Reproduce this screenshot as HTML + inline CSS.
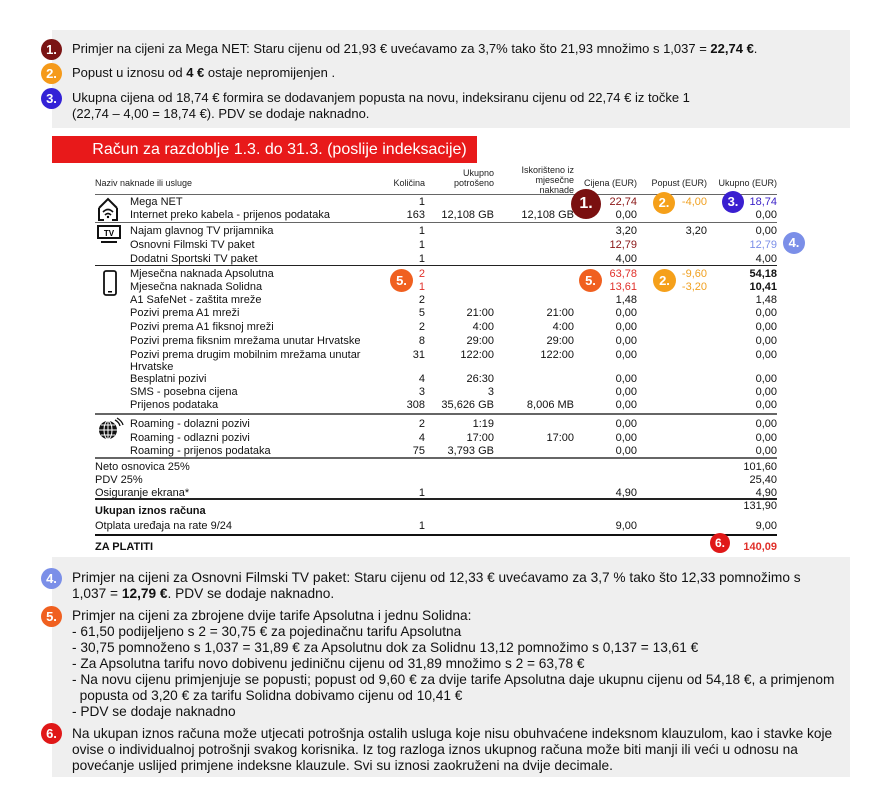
<!DOCTYPE html>
<html><head><meta charset="utf-8"><style>
body{margin:0;width:890px;height:796px;background:#fff;position:relative;overflow:hidden;font-family:"Liberation Sans",sans-serif;color:#111}
.gray{position:absolute;background:#efefef}
.t13{position:absolute;font-size:13px;line-height:16px;left:72px;white-space:nowrap}
.bt{font-size:13.7px}
.b{position:absolute;border-radius:50%;color:#fff;font-weight:bold;text-align:center;font-size:13px}
.row{position:absolute;left:0;width:890px;height:13px;font-size:11px;line-height:13px}
.row span{position:absolute;white-space:nowrap}
.n{left:130px}.m{left:95px}
.q{right:465px}.u{right:396px}.i{right:316px}.c{right:253px}.p{right:183px}.t{right:113px}
.ln{position:absolute;left:95px;width:682px;height:1px;background:#666}
.red{color:#e0302a}.dr{color:#8a1616}.or{color:#f0a020}.bl{color:#3b22c8}.lb{color:#7b8fe8}
.hd{position:absolute;font-size:9px;line-height:10px;text-align:right;color:#222}
</style></head><body>
<div class="gray" style="left:52px;top:30px;width:798px;height:98px"></div>
<div class="gray" style="left:52px;top:557px;width:798px;height:220px"></div>

<div class="b" style="left:41px;top:39px;width:21px;height:21px;line-height:21px;background:#7a1414">1.</div>
<div class="b" style="left:41px;top:63px;width:21px;height:21px;line-height:21px;background:#f59a1a">2.</div>
<div class="b" style="left:41px;top:88px;width:21px;height:21px;line-height:21px;background:#3322d6">3.</div>
<div class="t13" style="top:41px">Primjer na cijeni za Mega NET: Staru cijenu od 21,93 € uvećavamo za 3,7% tako što 21,93 množimo s 1,037 = <b>22,74 €</b>.</div>
<div class="t13" style="top:65px">Popust u iznosu od <b>4 €</b> ostaje nepromijenjen .</div>
<div class="t13" style="top:90px">Ukupna cijena od 18,74 € formira se dodavanjem popusta na novu, indeksiranu cijenu od 22,74 €  iz točke 1<br>(22,74 – 4,00 = 18,74 €). PDV se dodaje naknadno.</div>

<div style="position:absolute;left:52px;top:136px;width:425px;height:27px;background:#e8191a;color:#fff;font-size:16px;line-height:27px;text-align:center;box-sizing:border-box;padding-left:30px">Račun za razdoblje 1.3. do 31.3. (poslije indeksacije)</div>

<div class="hd" style="left:95px;top:178px;text-align:left">Naziv naknade ili usluge</div>
<div class="hd" style="right:465px;top:178px">Količina</div>
<div class="hd" style="right:396px;top:168px">Ukupno<br>potrošeno</div>
<div class="hd" style="right:316px;top:165px">Iskorišteno iz<br>mjesečne<br>naknade</div>
<div class="hd" style="right:253px;top:178px">Cijena (EUR)</div>
<div class="hd" style="right:183px;top:178px">Popust (EUR)</div>
<div class="hd" style="right:113px;top:178px">Ukupno (EUR)</div>
<div class="ln" style="top:194px"></div>

<svg style="position:absolute;left:96px;top:196px" width="24" height="26" viewBox="0 0 24 26"><path d="M3 12 L12 3 L21 12 M3 12 V24 H8 M21 12 V24 H16" fill="none" stroke="#111" stroke-width="2"/><path d="M7 16 Q12 11 17 16 M9 19 Q12 16 15 19" fill="none" stroke="#111" stroke-width="1.6"/><circle cx="12" cy="21" r="1.2"/></svg>
<svg style="position:absolute;left:97px;top:225px" width="24" height="20"><rect x="1" y="1" width="22" height="12" fill="none" stroke="#111" stroke-width="2"/><text x="12" y="11" font-size="8" font-weight="bold" text-anchor="middle" font-family="Liberation Sans">TV</text><rect x="4" y="16" width="16" height="2" fill="#111"/></svg>
<svg style="position:absolute;left:103px;top:270px" width="14" height="26"><rect x="1" y="1" width="12" height="24" rx="2" fill="none" stroke="#111" stroke-width="1.8"/><rect x="5" y="21" width="4" height="1.5"/></svg>
<svg style="position:absolute;left:98px;top:417px" width="26" height="24"><circle cx="10" cy="13" r="9" fill="#111"/><path d="M1 13 H19 M10 4 V22 M3 8 H17 M3 18 H17" stroke="#fff" stroke-width="1"/><ellipse cx="10" cy="13" rx="4" ry="9" fill="none" stroke="#fff"/><path d="M17 3 Q21 5 22 9 M19 1 Q24 4 25 8" fill="none" stroke="#111" stroke-width="1.3"/></svg>

<div class="row" style="top:196px"><span class="n">Mega NET</span><span class="q">1</span><span class="c dr">22,74</span><span class="p or">-4,00</span><span class="t bl">18,74</span></div>
<div class="row" style="top:209px"><span class="n">Internet preko kabela - prijenos podataka</span><span class="q">163</span><span class="u">12,108 GB</span><span class="i">12,108 GB</span><span class="c">0,00</span><span class="t">0,00</span></div>
<div class="ln" style="top:222px"></div>
<div class="row" style="top:225px"><span class="n">Najam glavnog TV prijamnika</span><span class="q">1</span><span class="c">3,20</span><span class="p">3,20</span><span class="t">0,00</span></div>
<div class="row" style="top:239px"><span class="n">Osnovni Filmski TV paket</span><span class="q">1</span><span class="c dr">12,79</span><span class="t lb">12,79</span></div>
<div class="row" style="top:253px"><span class="n">Dodatni Sportski TV paket</span><span class="q">1</span><span class="c">4,00</span><span class="t">4,00</span></div>
<div class="ln" style="top:265px;background:#222"></div>
<div class="row" style="top:268px"><span class="n">Mjesečna naknada Apsolutna</span><span class="q red">2</span><span class="c red">63,78</span><span class="p or">-9,60</span><span class="t"><b>54,18</b></span></div>
<div class="row" style="top:281px"><span class="n">Mjesečna naknada Solidna</span><span class="q red">1</span><span class="c red">13,61</span><span class="p or">-3,20</span><span class="t"><b>10,41</b></span></div>
<div class="row" style="top:294px"><span class="n">A1 SafeNet - zaštita mreže</span><span class="q">2</span><span class="c">1,48</span><span class="t">1,48</span></div>
<div class="row" style="top:307px"><span class="n">Pozivi prema A1 mreži</span><span class="q">5</span><span class="u">21:00</span><span class="i">21:00</span><span class="c">0,00</span><span class="t">0,00</span></div>
<div class="row" style="top:321px"><span class="n">Pozivi prema A1 fiksnoj mreži</span><span class="q">2</span><span class="u">4:00</span><span class="i">4:00</span><span class="c">0,00</span><span class="t">0,00</span></div>
<div class="row" style="top:335px"><span class="n">Pozivi prema fiksnim mrežama unutar Hrvatske</span><span class="q">8</span><span class="u">29:00</span><span class="i">29:00</span><span class="c">0,00</span><span class="t">0,00</span></div>
<div class="row" style="top:349px"><span class="n">Pozivi prema drugim mobilnim mrežama unutar</span><span class="q">31</span><span class="u">122:00</span><span class="i">122:00</span><span class="c">0,00</span><span class="t">0,00</span></div>
<div class="row" style="top:361px"><span class="n">Hrvatske</span></div>
<div class="row" style="top:373px"><span class="n">Besplatni pozivi</span><span class="q">4</span><span class="u">26:30</span><span class="c">0,00</span><span class="t">0,00</span></div>
<div class="row" style="top:386px"><span class="n">SMS - posebna cijena</span><span class="q">3</span><span class="u">3</span><span class="c">0,00</span><span class="t">0,00</span></div>
<div class="row" style="top:399px"><span class="n">Prijenos podataka</span><span class="q">308</span><span class="u">35,626 GB</span><span class="i">8,006 MB</span><span class="c">0,00</span><span class="t">0,00</span></div>
<div class="ln" style="top:413px;height:2px"></div>
<div class="row" style="top:418px"><span class="n">Roaming - dolazni pozivi</span><span class="q">2</span><span class="u">1:19</span><span class="c">0,00</span><span class="t">0,00</span></div>
<div class="row" style="top:432px"><span class="n">Roaming - odlazni pozivi</span><span class="q">4</span><span class="u">17:00</span><span class="i">17:00</span><span class="c">0,00</span><span class="t">0,00</span></div>
<div class="row" style="top:445px"><span class="n">Roaming - prijenos podataka</span><span class="q">75</span><span class="u">3,793 GB</span><span class="c">0,00</span><span class="t">0,00</span></div>
<div class="ln" style="top:457px;height:2px"></div>
<div class="row" style="top:461px"><span class="m">Neto osnovica 25%</span><span class="t">101,60</span></div>
<div class="row" style="top:474px"><span class="m">PDV 25%</span><span class="t">25,40</span></div>
<div class="row" style="top:487px"><span class="m">Osiguranje ekrana*</span><span class="q">1</span><span class="c">4,90</span><span class="t">4,90</span></div>
<div class="ln" style="top:498px;height:2px;background:#222"></div>
<div class="row" style="top:500px"><span class="t">131,90</span></div>
<div class="row" style="top:505px"><span class="m"><b>Ukupan iznos računa</b></span></div>
<div class="row" style="top:520px"><span class="m">Otplata uređaja na rate 9/24</span><span class="q">1</span><span class="c">9,00</span><span class="t">9,00</span></div>
<div class="ln" style="top:534px;height:2px;background:#111"></div>
<div class="row" style="top:541px"><span class="m"><b>ZA PLATITI</b></span><span class="t red"><b>140,09</b></span></div>

<div class="b" style="left:571px;top:189px;width:30px;height:30px;line-height:30px;font-size:16px;background:#7a1010">1.</div>
<div class="b" style="left:653px;top:192px;width:22px;height:22px;line-height:22px;background:#f5a01a">2.</div>
<div class="b" style="left:722px;top:191px;width:22px;height:22px;line-height:22px;background:#3a1fd0">3.</div>
<div class="b" style="left:783px;top:232px;width:22px;height:22px;line-height:22px;background:#7b8fe8">4.</div>
<div class="b" style="left:390px;top:269px;width:23px;height:23px;line-height:23px;background:#f06020">5.</div>
<div class="b" style="left:579px;top:269px;width:23px;height:23px;line-height:23px;background:#f06020">5.</div>
<div class="b" style="left:653px;top:269px;width:23px;height:23px;line-height:23px;background:#f5a01a">2.</div>
<div class="b" style="left:710px;top:533px;width:20px;height:20px;line-height:20px;font-size:12px;background:#e01818">6.</div>

<div class="b" style="left:41px;top:568px;width:21px;height:21px;line-height:21px;background:#7b8fe8">4.</div>
<div class="b" style="left:41px;top:606px;width:21px;height:21px;line-height:21px;background:#f06020">5.</div>
<div class="b" style="left:41px;top:723px;width:21px;height:21px;line-height:21px;background:#e01818">6.</div>
<div class="t13 bt" style="top:570px">Primjer na cijeni za Osnovni Filmski TV paket: Staru cijenu od 12,33 € uvećavamo za 3,7 % tako što 12,33 pomnožimo s<br>1,037 = <b>12,79 €</b>. PDV se dodaje naknadno.</div>
<div class="t13 bt" style="top:608px">Primjer na cijeni za zbrojene dvije tarife Apsolutna i jednu Solidna:<br>- 61,50 podijeljeno s 2 = 30,75 € za pojedinačnu tarifu Apsolutna<br>- 30,75 pomnoženo s 1,037 = 31,89 € za Apsolutnu dok za Solidnu 13,12 pomnožimo s 0,137 = 13,61 €<br>- Za Apsolutna tarifu novo dobivenu jediničnu cijenu od 31,89 množimo s 2 = 63,78 €<br>- Na novu cijenu primjenjuje se popusti; popust od 9,60 € za dvije tarife Apsolutna  daje ukupnu cijenu od 54,18 €, a primjenom<br>&nbsp;&nbsp;popusta od 3,20 € za tarifu Solidna dobivamo cijenu od 10,41 €<br>- PDV se dodaje naknadno</div>
<div class="t13 bt" style="top:726px">Na ukupan iznos računa može utjecati potrošnja ostalih usluga  koje nisu obuhvaćene indeksnom klauzulom, kao i stavke koje<br>ovise o individualnoj potrošnji svakog korisnika. Iz tog razloga iznos ukupnog računa može biti manji ili veći u odnosu na<br>povećanje uslijed primjene indeksne klauzule. Svi su iznosi zaokruženi na dvije decimale.</div>
</body></html>
